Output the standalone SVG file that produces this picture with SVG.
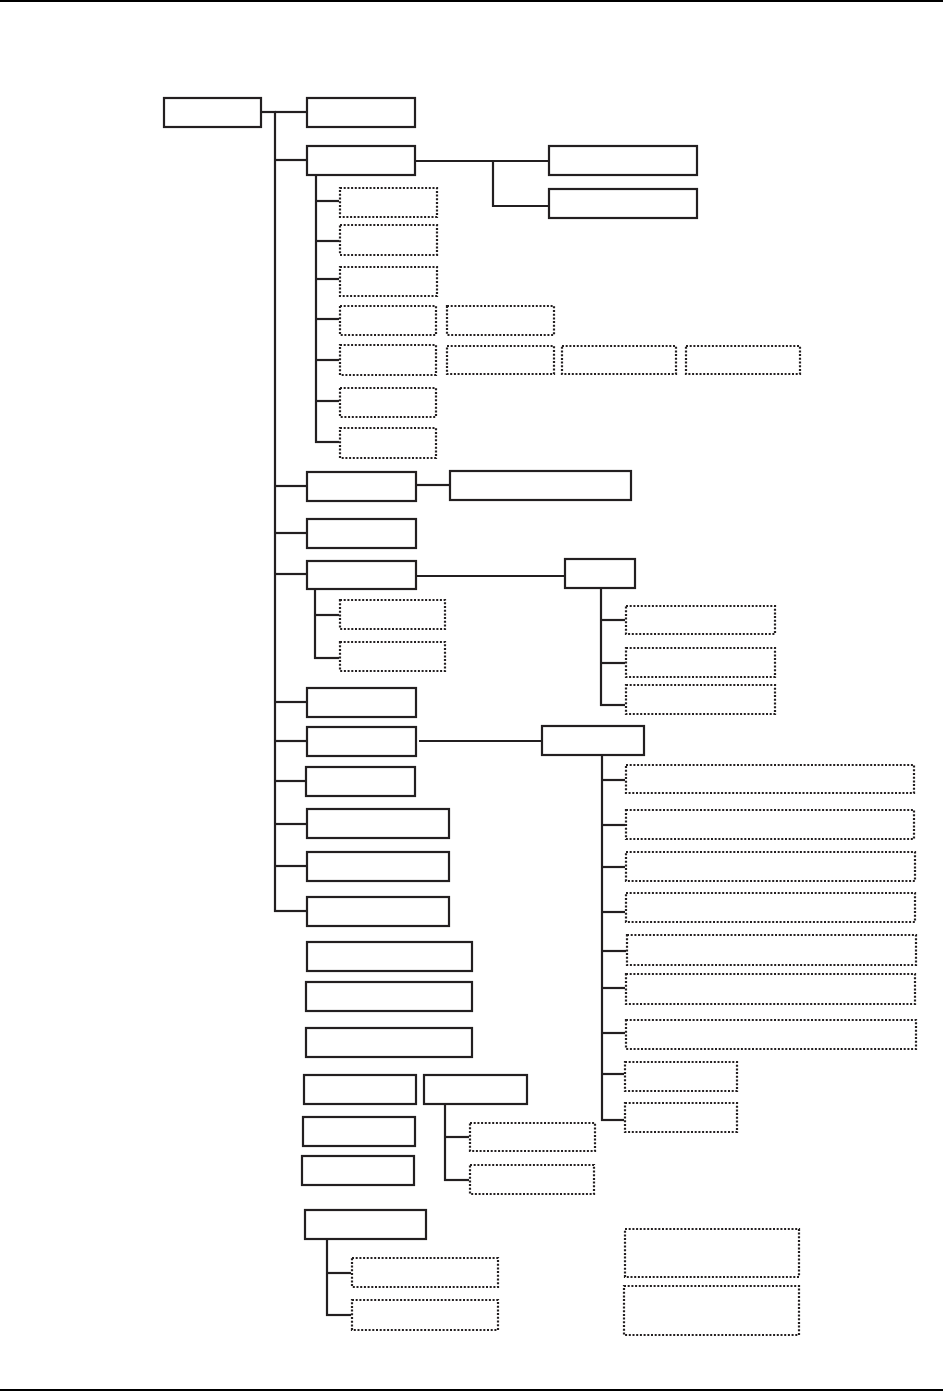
<svg xmlns="http://www.w3.org/2000/svg" width="943" height="1391" viewBox="0 0 943 1391">
<style>
.s{fill:#fff;stroke:#231f20;stroke-width:2.2}
.d{fill:#fff;stroke:#231f20;stroke-width:2.2;stroke-dasharray:2 1.7}
.c line{stroke:#231f20;stroke-width:2.2;fill:none}
.rule{fill:#000}
</style>
<rect width="943" height="1391" fill="#fff"/>
<rect class="rule" x="0" y="0" width="943" height="2"/>
<rect class="rule" x="0" y="1389" width="943" height="2"/>
<g id="connectors" class="c">
<line x1="262" y1="112" x2="276" y2="112"/>
<line x1="275" y1="111" x2="275" y2="912"/>
<line x1="275" y1="112" x2="306" y2="112"/>
<line x1="275" y1="160" x2="306" y2="160"/>
<line x1="275" y1="486" x2="306" y2="486"/>
<line x1="275" y1="533" x2="306" y2="533"/>
<line x1="275" y1="574" x2="306" y2="574"/>
<line x1="275" y1="702" x2="306" y2="702"/>
<line x1="275" y1="741" x2="306" y2="741"/>
<line x1="275" y1="781" x2="305" y2="781"/>
<line x1="275" y1="824" x2="306" y2="824"/>
<line x1="275" y1="866" x2="306" y2="866"/>
<line x1="274" y1="911" x2="306" y2="911"/>
<line x1="416" y1="161" x2="548" y2="161"/>
<line x1="493" y1="160" x2="493" y2="207"/>
<line x1="492" y1="206" x2="548" y2="206"/>
<line x1="316" y1="176" x2="316" y2="443"/>
<line x1="316" y1="201" x2="339" y2="201"/>
<line x1="316" y1="241" x2="339" y2="241"/>
<line x1="316" y1="279" x2="339" y2="279"/>
<line x1="316" y1="319" x2="339" y2="319"/>
<line x1="316" y1="360" x2="339" y2="360"/>
<line x1="316" y1="401" x2="339" y2="401"/>
<line x1="315" y1="442" x2="339" y2="442"/>
<line x1="417" y1="485" x2="449" y2="485"/>
<line x1="417" y1="576" x2="564" y2="576"/>
<line x1="315" y1="590" x2="315" y2="659"/>
<line x1="315" y1="615" x2="339" y2="615"/>
<line x1="314" y1="658" x2="339" y2="658"/>
<line x1="601" y1="589" x2="601" y2="706"/>
<line x1="601" y1="620" x2="625" y2="620"/>
<line x1="601" y1="663" x2="625" y2="663"/>
<line x1="600" y1="705" x2="625" y2="705"/>
<line x1="419" y1="741" x2="541" y2="741"/>
<line x1="602" y1="756" x2="602" y2="1121"/>
<line x1="602" y1="780" x2="625" y2="780"/>
<line x1="602" y1="825" x2="625" y2="825"/>
<line x1="602" y1="867" x2="625" y2="867"/>
<line x1="602" y1="912" x2="625" y2="912"/>
<line x1="602" y1="951" x2="626" y2="951"/>
<line x1="602" y1="988" x2="625" y2="988"/>
<line x1="602" y1="1033" x2="625" y2="1033"/>
<line x1="602" y1="1074" x2="624" y2="1074"/>
<line x1="601" y1="1120" x2="624" y2="1120"/>
<line x1="445" y1="1105" x2="445" y2="1181"/>
<line x1="445" y1="1137" x2="469" y2="1137"/>
<line x1="444" y1="1180" x2="469" y2="1180"/>
<line x1="327" y1="1240" x2="327" y2="1316"/>
<line x1="327" y1="1273" x2="351" y2="1273"/>
<line x1="326" y1="1315" x2="351" y2="1315"/>
</g>
<g id="root"><rect class="s" x="164" y="98" width="97" height="29"/></g>
<g id="a1"><rect class="s" x="307" y="98" width="108" height="29"/></g>
<g id="a2"><rect class="s" x="307" y="146" width="108" height="29"/></g>
<g id="b1"><rect class="s" x="549" y="146" width="148" height="29"/></g>
<g id="b2"><rect class="s" x="549" y="189" width="148" height="29"/></g>
<g id="a2s1"><rect class="d" x="340" y="188" width="97" height="29"/></g>
<g id="a2s2"><rect class="d" x="340" y="225" width="97" height="30"/></g>
<g id="a2s3"><rect class="d" x="340" y="267" width="97" height="29"/></g>
<g id="a2s4"><rect class="d" x="340" y="306" width="96" height="29"/></g>
<g id="a2s4b"><rect class="d" x="447" y="306" width="107" height="29"/></g>
<g id="a2s5"><rect class="d" x="340" y="345" width="96" height="30"/></g>
<g id="a2s5b"><rect class="d" x="447" y="346" width="107" height="28"/></g>
<g id="a2s5c"><rect class="d" x="562" y="346" width="114" height="28"/></g>
<g id="a2s5d"><rect class="d" x="686" y="346" width="114" height="28"/></g>
<g id="a2s6"><rect class="d" x="340" y="388" width="96" height="29"/></g>
<g id="a2s7"><rect class="d" x="340" y="428" width="96" height="30"/></g>
<g id="c"><rect class="s" x="307" y="472" width="109" height="29"/></g>
<g id="c1"><rect class="s" x="450" y="471" width="181" height="29"/></g>
<g id="d"><rect class="s" x="307" y="519" width="109" height="29"/></g>
<g id="e"><rect class="s" x="307" y="561" width="109" height="28"/></g>
<g id="e1"><rect class="s" x="565" y="559" width="70" height="29"/></g>
<g id="es1"><rect class="d" x="340" y="600" width="105" height="29"/></g>
<g id="es2"><rect class="d" x="340" y="642" width="105" height="29"/></g>
<g id="e1s1"><rect class="d" x="626" y="606" width="149" height="28"/></g>
<g id="e1s2"><rect class="d" x="626" y="648" width="149" height="29"/></g>
<g id="e1s3"><rect class="d" x="626" y="685" width="149" height="29"/></g>
<g id="f"><rect class="s" x="307" y="688" width="109" height="29"/></g>
<g id="g"><rect class="s" x="307" y="727" width="109" height="29"/></g>
<g id="g1"><rect class="s" x="542" y="726" width="102" height="29"/></g>
<g id="h"><rect class="s" x="306" y="767" width="109" height="29"/></g>
<g id="i"><rect class="s" x="307" y="809" width="142" height="29"/></g>
<g id="j"><rect class="s" x="307" y="852" width="142" height="29"/></g>
<g id="k"><rect class="s" x="307" y="897" width="142" height="29"/></g>
<g id="g1s1"><rect class="d" x="626" y="765" width="288" height="28"/></g>
<g id="g1s2"><rect class="d" x="626" y="810" width="288" height="29"/></g>
<g id="g1s3"><rect class="d" x="626" y="852" width="289" height="29"/></g>
<g id="g1s4"><rect class="d" x="626" y="893" width="289" height="29"/></g>
<g id="g1s5"><rect class="d" x="627" y="935" width="289" height="30"/></g>
<g id="g1s6"><rect class="d" x="626" y="974" width="289" height="30"/></g>
<g id="g1s7"><rect class="d" x="626" y="1020" width="290" height="29"/></g>
<g id="g1s8"><rect class="d" x="625" y="1062" width="112" height="29"/></g>
<g id="g1s9"><rect class="d" x="625" y="1103" width="112" height="29"/></g>
<g id="l"><rect class="s" x="307" y="942" width="165" height="29"/></g>
<g id="m"><rect class="s" x="306" y="982" width="166" height="29"/></g>
<g id="n"><rect class="s" x="306" y="1028" width="166" height="29"/></g>
<g id="o"><rect class="s" x="304" y="1075" width="112" height="29"/></g>
<g id="p"><rect class="s" x="424" y="1075" width="103" height="29"/></g>
<g id="q"><rect class="s" x="303" y="1117" width="112" height="29"/></g>
<g id="r"><rect class="s" x="302" y="1156" width="112" height="29"/></g>
<g id="ps1"><rect class="d" x="470" y="1123" width="125" height="28"/></g>
<g id="ps2"><rect class="d" x="470" y="1165" width="124" height="29"/></g>
<g id="s"><rect class="s" x="305" y="1210" width="121" height="29"/></g>
<g id="ss1"><rect class="d" x="352" y="1258" width="146" height="29"/></g>
<g id="ss2"><rect class="d" x="352" y="1300" width="146" height="30"/></g>
<g id="t"><rect class="d" x="625" y="1229" width="174" height="48"/></g>
<g id="u"><rect class="d" x="624" y="1286" width="175" height="49"/></g>
</svg>
